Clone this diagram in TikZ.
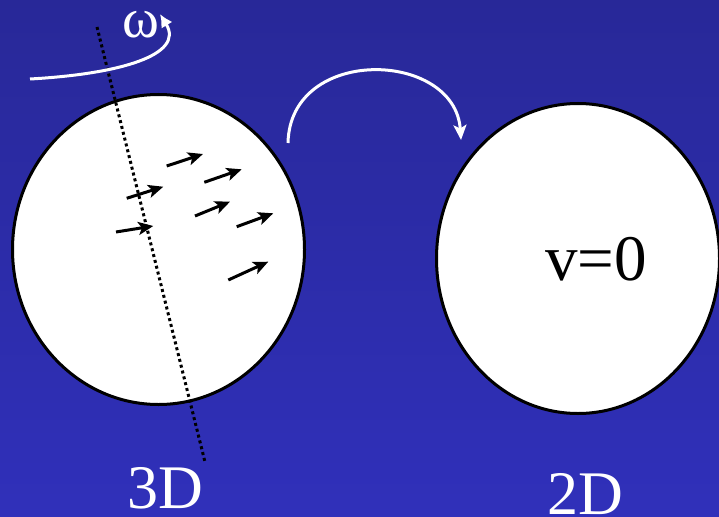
\documentclass[tikz,border=0pt]{standalone}
\usepackage{fontspec}
\setmainfont{Liberation Serif}
\usepackage{xcolor}
\usetikzlibrary{calc, shapes.geometric, positioning, arrows.meta}

\definecolor{bgtop}{RGB}{40,40,152}
\definecolor{bgbot}{RGB}{48,48,186}

\begin{document}
\begin{tikzpicture}[x=1pt, y=-1pt, >={Stealth[length=15pt, width=13pt, inset=3.5pt]},
    ball/.style={ellipse, draw=black, fill=white, line width=3pt, inner sep=0pt},
    spinaxis/.style={line width=3pt, dash pattern=on 3pt off 3pt},
    flow/.style={->, line width=3pt},
    whitearc/.style={->, white, line width=3pt},
    bigtext/.style={inner sep=0pt, font=\fontsize{62pt}{62pt}\selectfont}]
    % 1. Nền
    \fill[top color=bgtop, bottom color=bgbot] (0,0) rectangle (719,516);
    \useasboundingbox (0,0) rectangle (719,516);

    % 2. Hai quả cầu
    \node[ball, minimum width=292pt, minimum height=310pt] (ball3d) at (158.5,249.5) {};
    \node[ball, minimum width=283pt, minimum height=310pt] (ball2d) at (578,258.5) {};

    % 3. Trục quay và chiều quay
    \coordinate (axtop) at (97,27);
    \coordinate (axbot) at (205,462);
    \draw[spinaxis] (axtop) -- (axbot);
    \coordinate (spinA) at (30,79);
    \coordinate (spinB) at (160,14);
    \draw[whitearc, >={Latex[length=13pt, width=13pt]}] (spinA) .. controls (120,74) and (185,55) .. (spinB);
    \node[anchor=base, inner sep=0pt, text=white, font=\fontsize{56pt}{56pt}\selectfont] (omega) at (141,38) {ω};

    % 4. Vận tốc bên trong
    \foreach \ax/\ay/\bx/\by in {166.7/166/203/154, 204.3/182.3/241.7/169.3,
        126.7/198.3/163.3/186.7, 195/216/230/201.7, 116/232/153.3/226,
        236.7/226.7/273.3/213.3, 228.3/280/268.3/261.7} {
        \draw[flow] (\ax,\ay) -- (\bx,\by);
    }

    % 5. Mũi tên chuyển
    \coordinate (jumpA) at (288,143);
    \coordinate (jumpB) at (461,140);
    \draw[whitearc] (jumpA) .. controls (290,45) and (455,50) .. (jumpB);

    % 6. Nhãn
    \node[bigtext, anchor=base west, font=\fontsize{65pt}{65pt}\selectfont] (v0) at (545,280) {v=0};
    \node[bigtext, anchor=base west, text=white] (lbl3d) at (127,508) {3D};
    \node[bigtext, anchor=base west, text=white] (lbl2d) at (547,514) {2D};
\end{tikzpicture}
\end{document}
